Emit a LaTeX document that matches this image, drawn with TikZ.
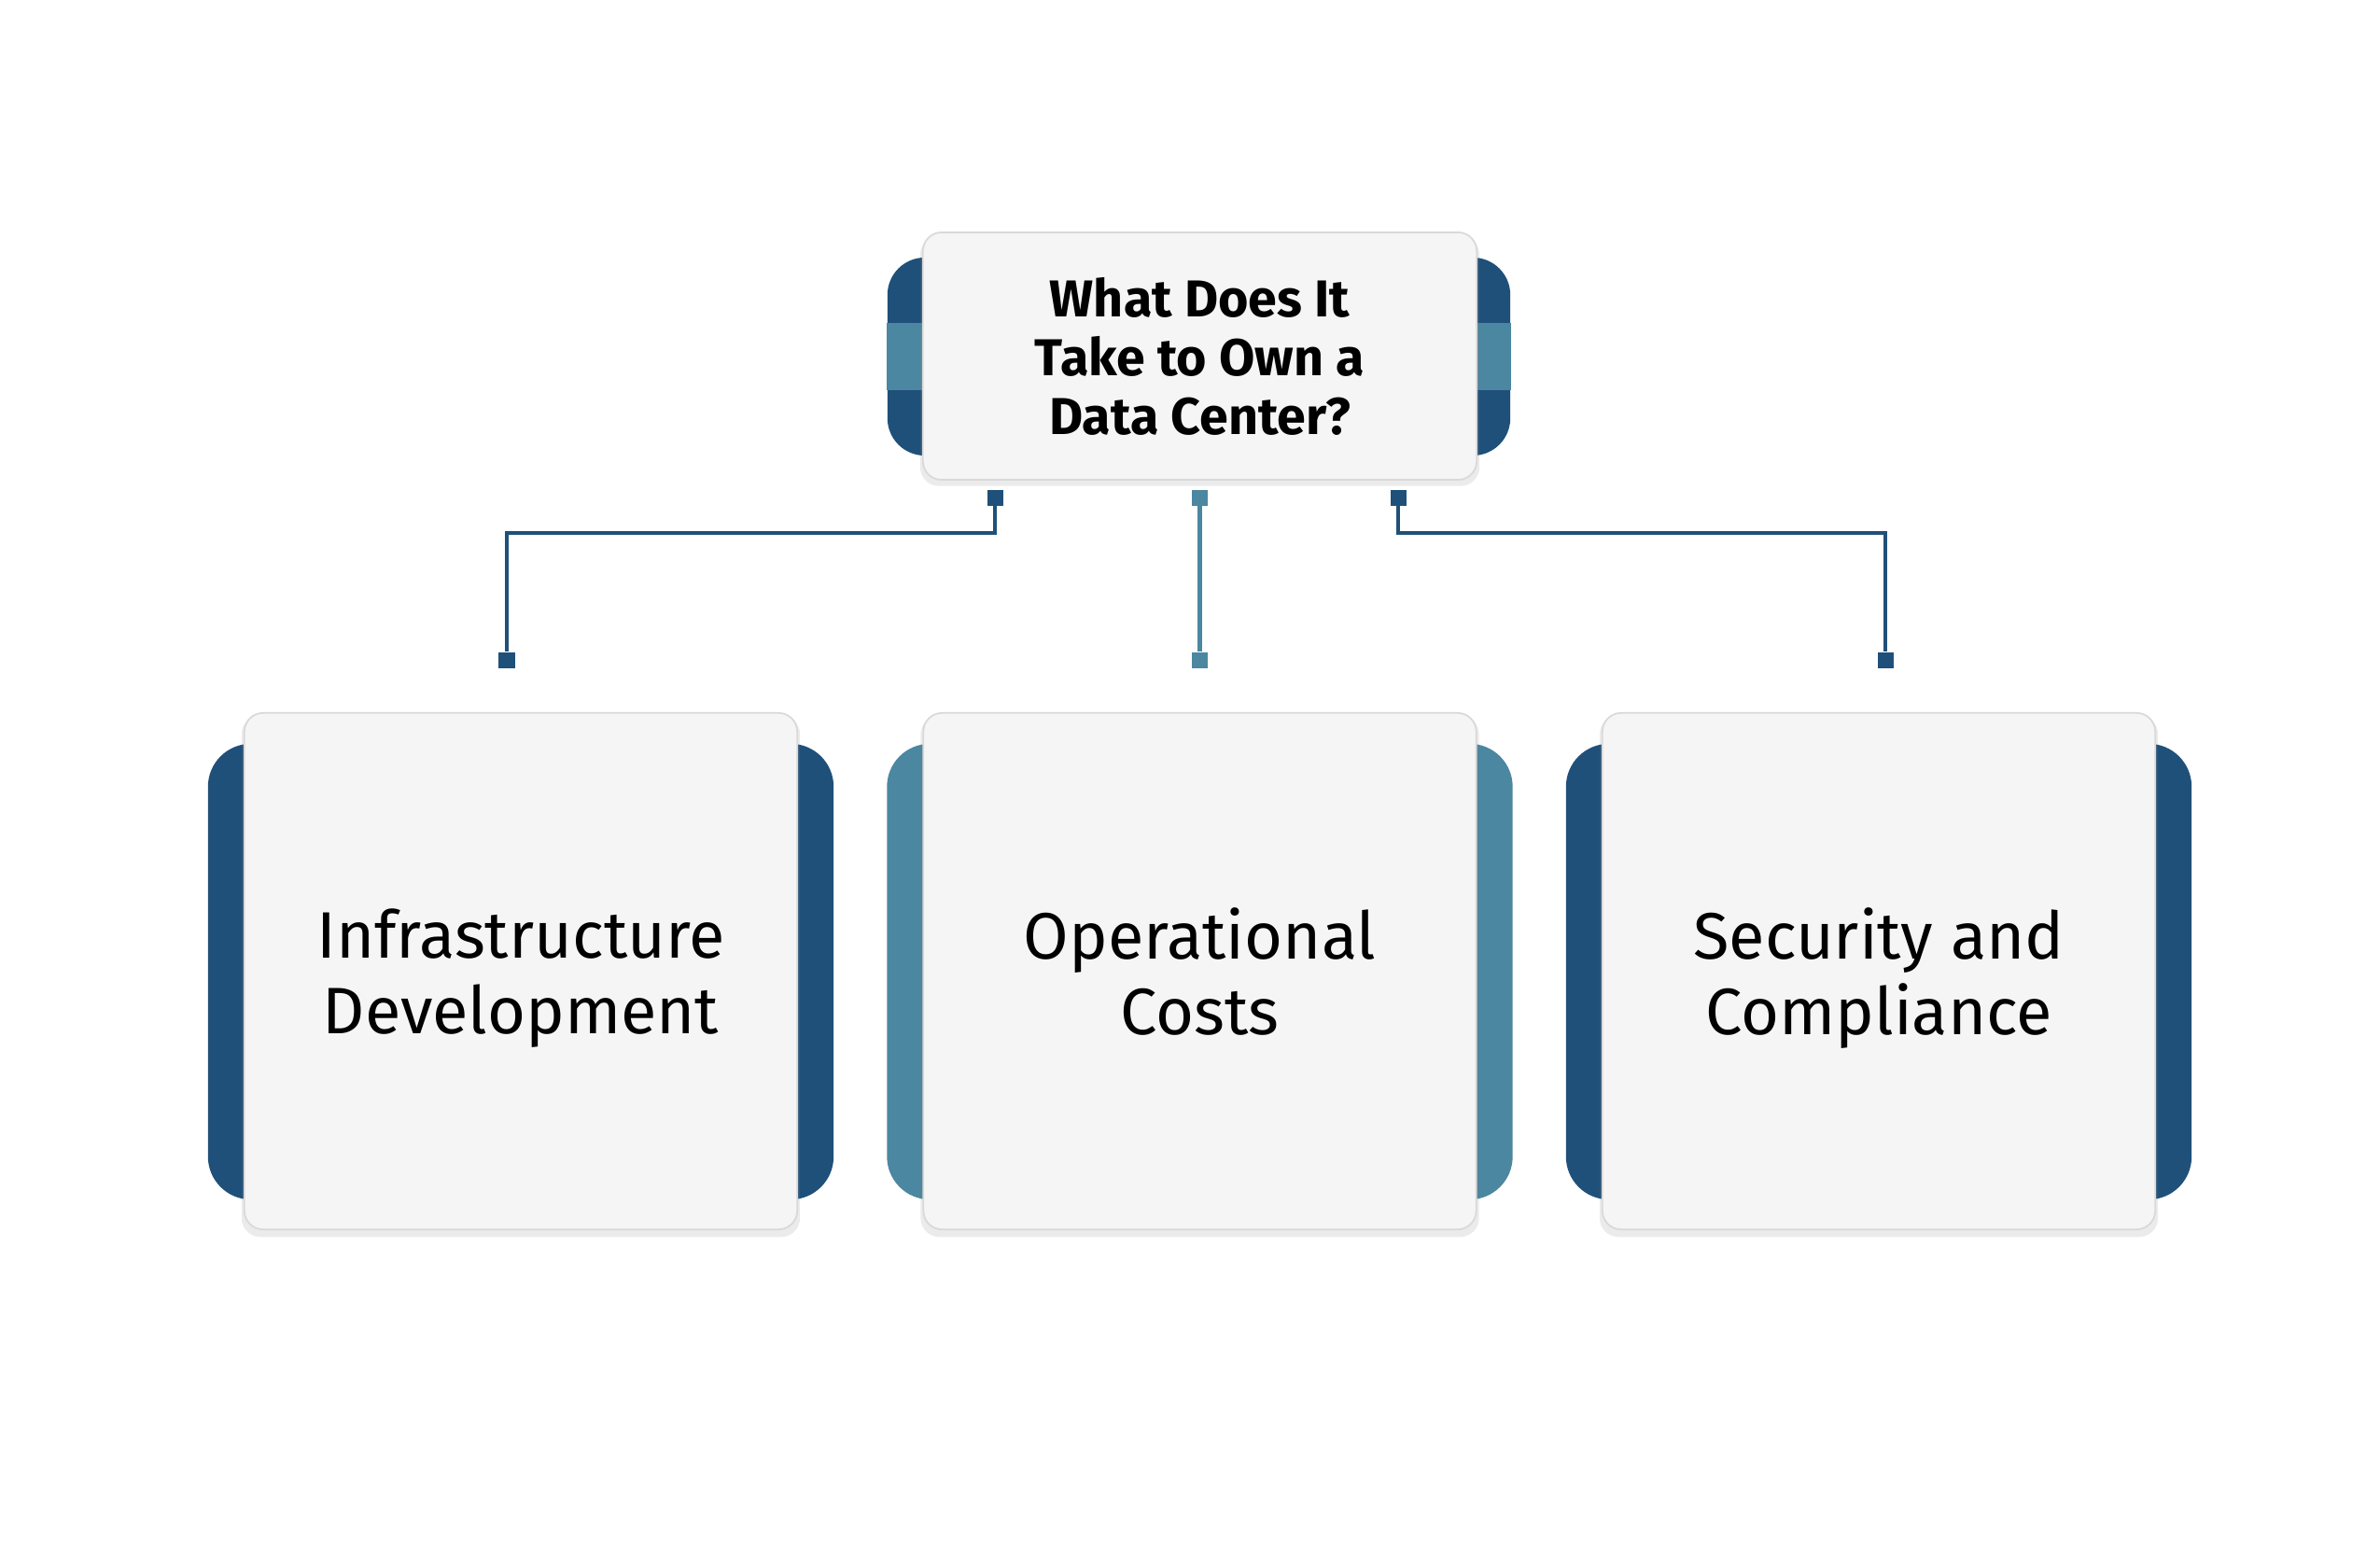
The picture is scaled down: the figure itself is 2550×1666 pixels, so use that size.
\documentclass[tikz,border=0pt]{standalone}
\usepackage{fontspec}
\setmainfont{Fira Sans}
\usetikzlibrary{shadows}
\definecolor{dk}{RGB}{31,80,121}
\definecolor{lt}{RGB}{75,135,160}
\definecolor{cardfill}{RGB}{245,245,245}
\newcommand\zerodp[1]{\raisebox{0pt}[\height][0pt]{#1}}
\tikzset{
  tab/.style={rectangle, rounded corners=0.46cm, inner sep=0pt, draw=none},
  card/.style={rectangle, rounded corners=0.2cm, fill=cardfill, draw=gray!30, line width=0.5pt,
    inner sep=0pt, align=center, text=black,
    drop shadow={shadow xshift=0pt, shadow yshift=-1.5pt, shadow scale=1.01, opacity=0.16, fill=gray}},
  topcard/.style={card, minimum width=5.93cm, minimum height=2.65cm,
    font=\bfseries\fontsize{15.8}{18}\selectfont},
  botcard/.style={card, minimum width=5.92cm, minimum height=5.53cm,
    font=\fontsize{20}{23}\selectfont},
  bottab/.style={tab, minimum width=6.70cm, minimum height=4.88cm},
  sq/.style={rectangle, minimum size=0.17cm, inner sep=0pt, draw=none},
  conn/.style={line width=1.2pt}
}
\begin{document}
\begin{tikzpicture}[x=0.01cm,y=-0.01cm]
\useasboundingbox (0,0) rectangle (2550,1666);

% top tab with bands
\node[tab, rounded corners=0.4cm, fill=dk, minimum width=6.67cm, minimum height=2.12cm] (ttab) at (1284.5,382) {};
\fill[lt] (ttab.west |- 0,346) rectangle (ttab.east |- 0,418);

% bottom tabs
\node[bottab, fill=dk] (tab1) at (558,1041) {};
\node[bottab, fill=lt] (tab2) at (1285.5,1041) {};
\node[bottab, fill=dk] (tab3) at (2013,1041) {};

% cards
\node[topcard] (top) at (1285.5,381.5) {What Does It\\Take to Own a\\\zerodp{Data Center?}};
\node[botcard] (c1) at (558,1040.5) {Infrastructure\\\zerodp{Development}};
\node[botcard] (c2) at (1285.5,1040.5) {Operational\\\zerodp{Costs}};
\node[botcard] (c3) at (2013,1040.5) {Security and\\\zerodp{Compliance}};

% connector squares
\node[sq, fill=dk] (s1) at (1066,533) {};
\node[sq, fill=lt] (s2) at (1285.5,533) {};
\node[sq, fill=dk] (s3) at (1498,533) {};
\node[sq, fill=dk] (e1) at (543,707) {};
\node[sq, fill=lt] (e2) at (1285.5,707) {};
\node[sq, fill=dk] (e3) at (2020,707) {};
\coordinate (hl) at (0,571);

\draw[conn, dk] (s1) -- (s1 |- hl) -| (e1);
\draw[conn, lt] (s2) -- (e2);
\draw[conn, dk] (s3) -- (s3 |- hl) -| (e3);
\end{tikzpicture}
\end{document}
